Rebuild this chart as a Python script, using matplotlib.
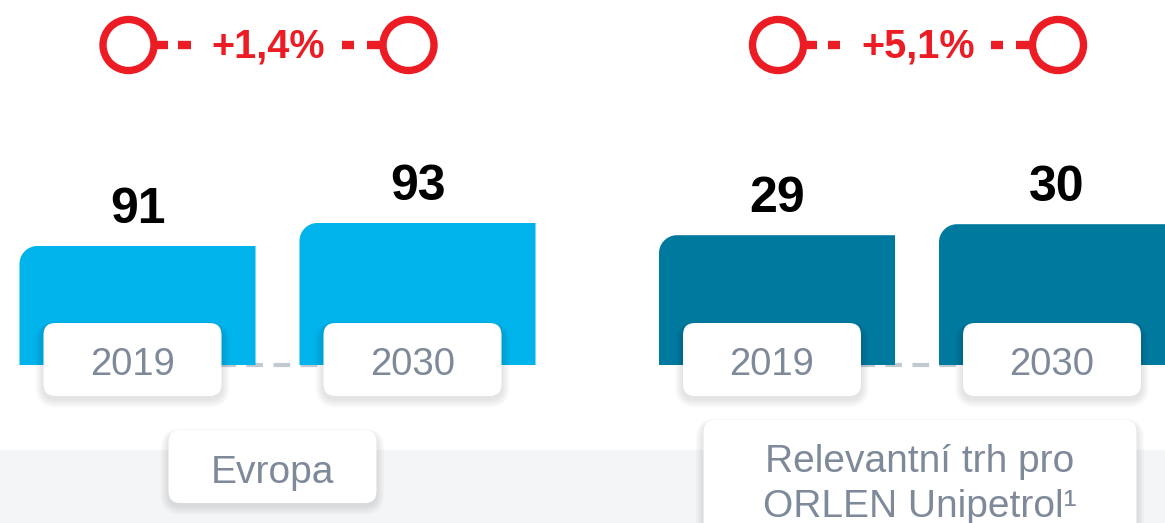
import numpy as np
import matplotlib
matplotlib.use("Agg")
import matplotlib.pyplot as plt
from matplotlib.path import Path
from matplotlib.patches import FancyBboxPatch, Circle, Rectangle

# ---------------- data ----------------
groups = ["Evropa", "Relevantní trh pro\nORLEN Unipetrol\u00b9"]
years = ["2019", "2030"]
values_europe = [91, 93]
values_relevant = [29, 30]
cagr_labels = ["+1,4%", "+5,1%"]

# ---------------- style ----------------
W, H = 1165, 523
FONT = "Liberation Sans"
BAR_COLORS = ["#00b3ea", "#00799e"]
RED = "#ec1c24"
GRAY_TXT = "#7e8999"
BAND = "#f4f5f7"
PX_PER_X = 280.0                  # px per x unit
X0_PX = 137.5                     # px of x=0
GROUP_X = [0.0, 2.284]            # group x offsets
BAR_W = 0.843
AXIS_FLOOR = [80.65, 17.2]        # truncated axis floors per group
PX_PER_Y = [11.5, 11.0]           # px per value unit per group
BASE_PX = 365                     # bar baseline (px from top)
CORNER = 18
CIRCLE_DX = [-9, 1]
GROUP_LABEL_DX = [-5, 3]

fig = plt.figure(figsize=(W / 100, H / 100), dpi=100)
fig.patch.set_facecolor("white")

xlim = (-X0_PX / PX_PER_X, (W - X0_PX) / PX_PER_X)
series = [values_europe, values_relevant]

bar_centers_px = []
for gi, vals in enumerate(series):
    ax = fig.add_axes([0, (H - BASE_PX) / H, 1, BASE_PX / H])
    ax.set_xlim(*xlim)
    floor = AXIS_FLOOR[gi]
    ax.set_ylim(floor, floor + BASE_PX / PX_PER_Y[gi])
    ax.axis("off")
    xs = np.arange(len(vals)) + GROUP_X[gi]
    heights = np.array(vals, dtype=float) - floor
    bars = ax.bar(xs, heights, bottom=floor, width=BAR_W, color=BAR_COLORS[gi],
                  zorder=2, linewidth=0)
    # rounded top-left corner
    rx, ry = CORNER / PX_PER_X, CORNER / PX_PER_Y[gi]
    for rect in bars:
        x0, y0 = rect.get_x(), rect.get_y()
        w, h = rect.get_width(), rect.get_height()
        t = np.linspace(np.pi / 2, np.pi, 16)
        arc = [(x0 + rx + rx * np.cos(a), y0 + h - ry + ry * np.sin(a)) for a in t]
        verts = [(x0, y0), (x0 + w, y0), (x0 + w, y0 + h)] + arc + [(x0, y0)]
        codes = [Path.MOVETO] + [Path.LINETO] * (len(verts) - 2) + [Path.CLOSEPOLY]
        rect.set_clip_path(Path(verts, codes), ax.transData)
    # dashed baseline between bars
    ax.plot([xs[0], xs[1]], [floor, floor], color="#c3c9d1", lw=3,
            dashes=(4, 2.5), zorder=1, clip_on=False, solid_capstyle="butt")
    # value labels
    for x, v in zip(xs, vals):
        ax.annotate(f"{v}", xy=(x, v), xytext=(0, 23 * 0.72), textcoords="offset points",
                    ha="center", va="baseline", fontsize=36, fontweight="bold",
                    color="black", family=FONT, zorder=5)
    bar_centers_px.append([ax.transData.transform((x, v))[0] for x, v in zip(xs, vals)])

# ---------------- overlay (pixel coordinates) ----------------
ov = fig.add_axes([0, 0, 1, 1])
ov.set_xlim(0, W)
ov.set_ylim(H, 0)
ov.axis("off")

ov.add_patch(Rectangle((0, 450), W, H - 450, color=BAND, zorder=0, lw=0))


def shadow_box(x0, y0, w, h, r, z=2):
    for k in range(1, 10):
        ov.add_patch(FancyBboxPatch((x0 - k * 0.9, y0 - k * 0.5 + 3), w + k * 1.8, h + k * 1.5,
                                    boxstyle=f"round,pad=0,rounding_size={r + k}",
                                    fc="black", ec="none", alpha=0.010, zorder=z))
    ov.add_patch(FancyBboxPatch((x0, y0), w, h, boxstyle=f"round,pad=0,rounding_size={r}",
                                fc="white", ec="none", zorder=z + 0.5))


for gi in range(2):
    cs = bar_centers_px[gi]
    # year label boxes
    for c, yr in zip(cs, years):
        bx = c - 5
        shadow_box(bx - 89, 323, 178, 73, 12)
        ov.text(bx, 375, yr, ha="center", va="baseline", fontsize=27.5,
                color=GRAY_TXT, family=FONT, zorder=4)
    # group label boxes
    mid = (cs[0] + cs[1]) / 2 + GROUP_LABEL_DX[gi]
    lines = groups[gi].split("\n")
    if len(lines) == 1:
        shadow_box(mid - 104, 430, 208, 73, 12)
        ov.text(mid, 483, lines[0], ha="center", va="baseline", fontsize=28,
                color=GRAY_TXT, family=FONT, zorder=4)
    else:
        shadow_box(mid - 216.5, 420, 433, 130, 12)
        for li, ln in enumerate(lines):
            ov.text(mid, 472 + 45 * li, ln, ha="center", va="baseline", fontsize=28,
                    color=GRAY_TXT, family=FONT, zorder=4)

    # CAGR circles + dashes
    c1, c2 = cs[0] + CIRCLE_DX[gi], cs[1] + CIRCLE_DX[gi]
    cy = 45
    for a, b in [(c1 + 27, c1 + 39), (c1 + 49.5, c1 + 62), (c2 - 67, c2 - 55), (c2 - 42, c2 - 26)]:
        ov.plot([a, b], [cy, cy], color=RED, lw=6, solid_capstyle="butt", zorder=5)
    for c in (c1, c2):
        ov.add_patch(Circle((c, cy), 25.5, fc="white", ec=RED, lw=5.3, zorder=6))
    ov.text((c1 + c2) / 2, 58, cagr_labels[gi], ha="center", va="baseline",
            fontsize=28.5, fontweight="bold", color=RED, family=FONT, zorder=6)

fig.savefig("out.png", dpi=100, facecolor="white")
